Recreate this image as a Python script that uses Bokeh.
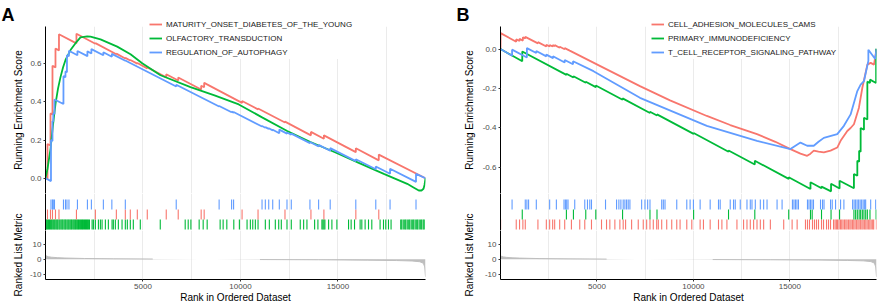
from bokeh.plotting import figure
from bokeh.models import Range1d, FixedTicker, PrintfTickFormatter, Legend, LegendItem
from bokeh.layouts import row, column
from bokeh.embed import file_html
from bokeh.resources import INLINE

# ---------------- data ----------------
N_GENES = 19490
grid_ticks = [2500, 5000, 7500, 10000, 12500, 15000, 17500]
x_ticks = [5000, 10000, 15000]

# Panel A gene sets
names_a = ["MATURITY_ONSET_DIABETES_OF_THE_YOUNG", "OLFACTORY_TRANSDUCTION", "REGULATION_OF_AUTOPHAGY"]

red_a_x = [0, 102, 102, 256, 256, 358, 358, 512, 512, 691, 691, 1587, 1587, 2559, 2559, 3634, 3634,
           4094, 4094, 4350, 4350, 4709, 4709, 5220, 5220, 6193, 6193, 6807, 6807, 7984, 7984, 8138, 8138,
           10082, 10082, 10901, 10901, 12283, 12283, 13614, 13614, 14279, 14279, 15917, 15917, 17094, 17094, 19490]
red_a_y = [0.0, -0.003, 0.18, 0.172, 0.34, 0.334, 0.59, 0.581, 0.68, 0.670, 0.755, 0.707, 0.757, 0.705, 0.708,
           0.650, 0.653, 0.628, 0.631, 0.617, 0.620, 0.601, 0.604, 0.576, 0.581, 0.529, 0.545, 0.512, 0.528,
           0.465, 0.485, 0.477, 0.500, 0.395, 0.405, 0.361, 0.366, 0.292, 0.297, 0.225, 0.243, 0.207, 0.225,
           0.137, 0.157, 0.094, 0.124, 0.0]

green_a_x = [0, 103, 256, 385, 513, 641, 769, 898, 1026, 1282, 1539, 1795, 2139, 2308, 2821, 3678, 4360,
             4960, 5898, 7437, 8668, 9914, 11130, 12397, 13591, 14873, 16155, 17352, 17952, 18552, 18875,
             19147, 19285, 19388, 19439, 19490]
green_a_y = [0.0, 0.05, 0.153, 0.28, 0.39, 0.47, 0.53, 0.58, 0.62, 0.672, 0.708, 0.738, 0.743, 0.742, 0.728,
             0.690, 0.650, 0.603, 0.540, 0.478, 0.434, 0.387, 0.318, 0.248, 0.190, 0.135, 0.077, 0.023,
             -0.003, -0.029, -0.048, -0.064, -0.064, -0.055, -0.035, 0.0]

blue_a_x = [0, 281, 281, 358, 358, 399, 399, 461, 461, 921, 921, 1024, 1024, 1100, 1100, 1203, 1203, 1638, 1638,
            2150, 2150, 2354, 2354, 2968, 2968, 3403, 3403, 4094, 4094, 6705, 6705, 8905, 8905, 9545, 9545,
            9647, 9647, 11106, 11106, 11275, 11275, 11449, 11449, 11654, 11654, 11992, 11992, 12386, 12386,
            12606, 12606, 13563, 13563, 14008, 14008, 14602, 14602, 15915, 15915, 16940, 16940, 17672, 17672,
            19003, 19003, 19490]
blue_a_y = [0.0, -0.0146, 0.20, 0.196, 0.30, 0.298, 0.34, 0.337, 0.413, 0.389, 0.535, 0.530, 0.56, 0.556, 0.645,
            0.640, 0.668, 0.645, 0.667, 0.640, 0.665, 0.654, 0.677, 0.645, 0.66, 0.637, 0.652, 0.616, 0.617,
            0.481, 0.49, 0.376, 0.379, 0.346, 0.349, 0.344, 0.347, 0.271, 0.274, 0.265, 0.268, 0.259, 0.262,
            0.251, 0.254, 0.236, 0.255, 0.234, 0.240, 0.229, 0.234, 0.184, 0.190, 0.167, 0.175, 0.144, 0.158,
            0.090, 0.100, 0.047, 0.062, 0.024, 0.050, -0.019, 0.023, 0.0]

red_hits_a = [102, 256, 358, 512, 691, 1587, 2559, 3634, 4094, 4350, 4709, 5220, 6193, 6807, 7984, 8138,
              10082, 10901, 12283, 13614, 14279, 15917, 17094]
green_hits_a = [15, 60, 110, 150, 205, 250, 300, 345, 400, 450, 495, 550, 600, 640, 700, 745, 800, 850, 890,
                950, 1000, 1040, 1100, 1150, 1195, 1250, 1300, 1340, 1400, 1450, 1500, 1545, 1600, 1650, 1695,
                1750, 1800, 1850, 1900, 1945, 2000, 2050, 2100, 2150, 2200, 2255,
                2390, 2457, 2559, 2713, 2815, 2902, 3071, 3224, 3414, 3480, 3583, 3736, 3926, 4094, 4197, 4350,
                4504, 4862, 5886, 7165, 7319, 7457, 7881, 8087, 8292, 8957, 9111, 9300, 9658, 9944, 10338,
                10507, 10630, 10763, 10901, 11275, 11480, 11787, 11961, 12094, 12386, 12606, 13066, 13240,
                13409, 13803, 13972, 14177, 14228, 14279, 14330, 14520, 14689, 14945, 15543, 15676, 15850,
                16137, 16224, 16393, 16567, 16736, 17161, 17335, 17452, 17591, 17724, 18220, 18271, 18348,
                18425, 18476, 18553, 18630, 18681, 18758, 18834, 18886, 18962, 19039, 19090, 19167, 19244,
                19295, 19372, 19423]
blue_hits_a = [281, 358, 399, 461, 921, 1024, 1100, 1203, 1638, 2150, 2354, 2968, 3403, 4094, 6705, 8905,
               9545, 9647, 11106, 11275, 11449, 11654, 11992, 12386, 12606, 13563, 14008, 14602, 15915, 16940,
               17672, 19003]

metric_a_x = [0, 20, 60, 150, 300, 600, 1000, 2000, 3500, 5500, 8000, 8600, 11000, 14000, 16500, 18000,
              18800, 19200, 19380, 19450, 19490]
metric_a_y = [3.2, 2.6, 2.1, 1.7, 1.4, 1.1, 0.85, 0.55, 0.35, 0.2, 0.03, -0.03, -0.15, -0.3, -0.55, -0.8,
              -1.1, -1.6, -2.6, -5.0, -11.5]

# Panel B gene sets
names_b = ["CELL_ADHESION_MOLECULES_CAMS", "PRIMARY_IMMUNODEFICIENCY", "T_CELL_RECEPTOR_SIGNALING_PATHWAY"]

red_b_x = [0, 5, 816, 816, 988, 988, 1160, 1160, 1284, 1284, 1940, 1940, 2376, 2376, 2548, 2548, 2704, 2704,
           2808, 2808, 3068, 3068, 3328, 3328, 3588, 5148, 7228, 8788, 10696, 11908, 13296, 14248, 15028,
           15548, 15896, 16068, 16240, 16484, 16760, 17108, 17456, 17628, 17976, 18148, 18320, 18580, 18756,
           19016, 19188, 19360, 19490]
red_b_y = [0.0, 0.081, 0.037, 0.05, 0.041, 0.052, 0.043, 0.06, 0.054, 0.062, 0.029, 0.035, 0.013, 0.022,
           0.013, 0.021, 0.013, 0.02, 0.015, 0.02, 0.007, 0.012, -0.001, 0.005, -0.008, -0.085, -0.188, -0.26,
           -0.339, -0.385, -0.431, -0.47, -0.507, -0.53, -0.541, -0.53, -0.515, -0.52, -0.524, -0.515, -0.499,
           -0.465, -0.415, -0.40, -0.381, -0.297, -0.196, -0.079, -0.07, -0.079, 0.0]

green_b_x = [0, 1128, 1128, 3416, 3416, 3780, 3780, 4420, 4420, 4940, 4940, 6328, 6328, 7748, 7748, 8112, 8112,
             10010, 10010, 11820, 11820, 13182, 13182, 14940, 14940, 16068, 16068, 16640, 16640, 17134, 17134,
             17576, 17576, 18320, 18320, 18496, 18496, 18590, 18590, 18668, 18668, 18840, 18840, 19016, 19016,
             19152, 19152, 19470, 19470, 19490]
green_b_y = [0.0, -0.062, -0.012, -0.131, -0.125, -0.144, -0.138, -0.171, -0.166, -0.193, -0.185, -0.257,
             -0.25, -0.324, -0.318, -0.337, -0.331, -0.43, -0.425, -0.52, -0.514, -0.585, -0.566, -0.658, -0.65,
             -0.709, -0.675, -0.705, -0.697, -0.721, -0.683, -0.707, -0.667, -0.705, -0.633, -0.642, -0.566,
             -0.571, -0.515, -0.52, -0.40, -0.409, -0.348, -0.357, -0.165, -0.172, -0.155, -0.172, 0.0, 0.0]

blue_b_x = [0, 600, 600, 1368, 1368, 1856, 1856, 2376, 2376, 2722, 2722, 3328, 3328, 3760, 3760, 4820, 7228,
            10696, 13296, 15028, 15288, 15548, 15896, 16240, 16484, 16760, 17456, 17800, 18148, 18496, 18668,
            18840, 19068, 19068, 19422, 19490]
blue_b_y = [0.0, -0.034, -0.003, -0.043, 0.005, -0.02, -0.01, -0.037, -0.028, -0.046, -0.036, -0.068, -0.055,
            -0.077, -0.062, -0.112, -0.247, -0.389, -0.465, -0.507, -0.49, -0.474, -0.49, -0.49, -0.47, -0.45,
            -0.431, -0.389, -0.331, -0.213, -0.18, -0.163, -0.06, -0.003, -0.05, 0.0]

red_hits_b = [5, 816, 988, 1160, 1284, 1940, 2376, 2548, 2704, 2808, 3068, 3328, 3676, 4108, 4368, 4716, 5236,
              5496, 5668, 5928, 6188, 6360, 6484, 6796, 7140, 7400, 7576, 7748, 7920, 8096, 8180, 8356, 8616,
              8876, 9136, 9308, 9656, 9916, 10348, 10520, 10868, 11300, 11476, 11736, 12256, 12600, 12776,
              12948, 13120, 13296, 13468, 13640, 13988, 14680, 15116, 15376, 15808, 15912, 16016, 16172, 16276,
              16380, 16484, 16640, 16744, 16900, 17004, 17108, 17264, 17342, 17410, 17472, 17550, 17628, 17690,
              17758, 17836, 17904, 17966, 18044, 18112, 18174, 18252, 18314, 18382, 18460, 18528, 18590, 18668,
              18736, 18798, 18876, 18938, 19006, 19084, 19146, 19214, 19292, 19344, 19485]
green_hits_b = [1128, 3416, 3780, 4420, 4940, 6328, 7748, 8112, 10010, 11820, 13182, 14940, 16068, 16156,
                16640, 17134, 17576, 18320, 18408, 18496, 18590, 18668, 18756, 18840, 18930, 19016, 19152, 19470]
blue_hits_b = [600, 1284, 1368, 1456, 1856, 2548, 2896, 3292, 3364, 3432, 3500, 3848, 4368, 4508, 4628, 4716,
               5444, 6016, 6136, 6240, 6360, 6448, 6536, 6620, 6708, 7316, 7488, 7628, 7748, 8356, 8440, 8528,
               9136, 9656, 9828, 10000, 10348, 10868, 11300, 11388, 11908, 12080, 12168, 12428, 12776, 12948,
               13036, 13208, 13468, 13640, 13816, 14336, 14596, 15132, 15210, 15288, 15366, 15444, 15912, 15990,
               16068, 16146, 16224, 16588, 16692, 16770, 17108, 17196, 17368, 17628, 17800, 18252, 18330, 18408,
               18486, 18564, 18642, 18720, 18798, 18876, 18928, 19188, 19448]

metric_b_x = [0, 20, 60, 150, 300, 600, 1000, 2000, 3500, 5500, 7100, 7400, 11000, 14000, 16500, 18000,
              18800, 19200, 19380, 19450, 19490]
metric_b_y = [2.6, 2.2, 1.9, 1.6, 1.3, 1.0, 0.8, 0.5, 0.3, 0.15, 0.02, -0.02, -0.15, -0.3, -0.5, -0.75,
              -1.0, -1.5, -2.5, -5.0, -11.5]

# ---------------- styling ----------------
RED, GREEN, BLUE = "#F8766D", "#00BA38", "#619CFF"
FONT = "Liberation Sans"
GRID_COLOR = "#EBEBEB"
TOP_H, RUG_H, MET_H = 193, 37, 75
LEG_TOP, LEG_H = 17, 42


def clean(p, transparent=False):
    p.outline_line_color = None
    if transparent:
        p.background_fill_alpha = 0
        p.border_fill_alpha = 0
    else:
        p.background_fill_color = "white"
        p.border_fill_color = "white"
    for g in p.xgrid + p.ygrid:
        g.grid_line_color = None


def use_xgrid(p):
    p.xgrid.ticker = FixedTicker(ticks=grid_ticks)
    p.xgrid.grid_line_color = GRID_COLOR
    p.xgrid.grid_line_width = 1


def axis_style(ax):
    ax.axis_line_color = "black"
    ax.axis_line_width = 1
    ax.major_tick_line_color = "#333333"
    ax.major_tick_out = 2
    ax.major_tick_in = 0
    ax.minor_tick_out = 0
    ax.minor_tick_in = 0
    ax.major_label_text_font = FONT
    ax.major_label_text_font_size = "8px"
    ax.major_label_text_color = "#4D4D4D"
    ax.major_label_standoff = 2
    ax.axis_label_text_font = FONT
    ax.axis_label_text_font_size = "10px"
    ax.axis_label_text_font_style = "normal"
    ax.axis_label_text_color = "black"


def panel(col_w, left, right, es_range, es_ticks, curves, names, legend_x, letter, letter_offset,
          rug_rows, mx, my, es_standoff, m_standoff):
    xr = Range1d(0, N_GENES)
    common = dict(width=col_w, x_range=xr, output_backend="svg", toolbar_location=None,
                  min_border_left=left, min_border_right=right)

    # --- running enrichment score ---
    top = figure(height=TOP_H, y_range=Range1d(*es_range), x_axis_location=None,
                 min_border_top=25, min_border_bottom=0, **common)
    clean(top)
    use_xgrid(top)
    ax = top.yaxis[0]
    axis_style(ax)
    ax.ticker = FixedTicker(ticks=es_ticks)
    ax.formatter = PrintfTickFormatter(format="%.1f")
    ax.axis_label = "Running Enrichment Score"
    ax.axis_label_standoff = es_standoff
    top.title.text = letter
    top.title.text_font = FONT
    top.title.text_font_size = "18px"
    top.title.text_font_style = "bold"
    top.title.text_color = "black"
    top.title.align = "left"
    top.title.offset = letter_offset
    top.title.standoff = 4
    top.title.vertical_align = "bottom"
    for (cx, cy, col) in curves:
        top.line(cx, cy, line_color=col, line_width=1.8)

    # --- legend, on a transparent strip laid over the top of the score plot ---
    # (the strip's y-range lies far above the scores, so its copies of the curves stay out of view)
    lg = figure(height=LEG_H, x_range=xr, y_range=Range1d(5, 6), x_axis_location=None,
                y_axis_location=None, width=col_w, output_backend="svg", toolbar_location=None,
                min_border_left=left, min_border_right=right, min_border_top=0, min_border_bottom=0,
                styles={"margin-top": f"-{TOP_H - LEG_TOP}px",
                        "margin-bottom": f"{TOP_H - LEG_TOP - LEG_H}px"})
    clean(lg, transparent=True)
    keys = [lg.line(cx, cy, line_color=col, line_width=1.8) for (cx, cy, col) in curves]
    leg = Legend(items=[LegendItem(label=n, renderers=[r]) for n, r in zip(names, keys)],
                 location=(legend_x, 0), orientation="vertical", label_text_font=FONT,
                 label_text_font_size="8px", label_text_color="#1A1A1A", glyph_width=13, glyph_height=14,
                 label_height=14, label_standoff=4, spacing=0, padding=0, margin=0,
                 border_line_color=None, background_fill_color="white", background_fill_alpha=1)
    lg.add_layout(leg, "center")

    # --- rug of gene-set hits ---
    rug = figure(height=RUG_H, y_range=Range1d(0, 3.7), x_axis_location=None,
                 min_border_top=0, min_border_bottom=0, **common)
    clean(rug)
    use_xgrid(rug)
    axis_style(rug.yaxis[0])
    rug.yaxis[0].ticker = FixedTicker(ticks=[])
    rug.yaxis[0].major_label_text_font_size = "0px"
    for i, (hits, col) in enumerate(rug_rows):
        rug.segment(x0=hits, y0=[i + 0.1] * len(hits), x1=hits, y1=[i + 1.1] * len(hits),
                    line_color=col, line_width=1.1)

    # --- ranked list metric (canvas reaches up over the rug, transparent) ---
    met = figure(height=MET_H + 17, y_range=Range1d(-13.3, 19.0), min_border_top=17, min_border_bottom=24,
                 styles={"margin-top": "-17px"}, **common)
    clean(met, transparent=True)
    use_xgrid(met)
    met.varea(x=mx, y1=0, y2=my, fill_color="#BEBEBE")
    pos = [(a, b) for a, b in zip(mx, my) if b > 0.05]
    neg = [(a, b) for a, b in zip(mx, my) if b < -0.05]
    for seg in (pos, neg):
        met.line([s[0] for s in seg], [s[1] for s in seg], line_color="#BEBEBE", line_width=1)
    ay = met.yaxis[0]
    axis_style(ay)
    ay.ticker = FixedTicker(ticks=[-10, 0, 10])
    ay.formatter = PrintfTickFormatter(format="%d")
    ay.axis_label = "Ranked List Metric"
    ay.axis_label_standoff = m_standoff
    axx = met.xaxis[0]
    axis_style(axx)
    axx.ticker = FixedTicker(ticks=x_ticks)
    axx.formatter = PrintfTickFormatter(format="%d")
    axx.axis_label = "Rank in Ordered Dataset"
    axx.axis_label_standoff = 0

    return column(top, lg, rug, met, spacing=0)


col_a = panel(440, 45, 15, (-0.0797, 0.7953), [0.0, 0.2, 0.4, 0.6],
              [(red_a_x, red_a_y, RED), (green_a_x, green_a_y, GREEN), (blue_a_x, blue_a_y, BLUE)],
              names_a, 104, "A", -44,
              [(green_hits_a, GREEN), (red_hits_a, RED), (blue_hits_a, BLUE)],
              metric_a_x, metric_a_y, 3, 3)
col_b = panel(439, 500 - 440, 3, (-0.732, 0.1144), [-0.6, -0.4, -0.2, 0.0],
              [(red_b_x, red_b_y, RED), (green_b_x, green_b_y, GREEN), (blue_b_x, blue_b_y, BLUE)],
              names_b, 151, "B", -44,
              [(red_hits_b, RED), (green_hits_b, GREEN), (blue_hits_b, BLUE)],
              metric_b_x, metric_b_y, 5, 7)

p = row(col_a, col_b, spacing=0)

open("out.html", "w").write(file_html(p, INLINE))
